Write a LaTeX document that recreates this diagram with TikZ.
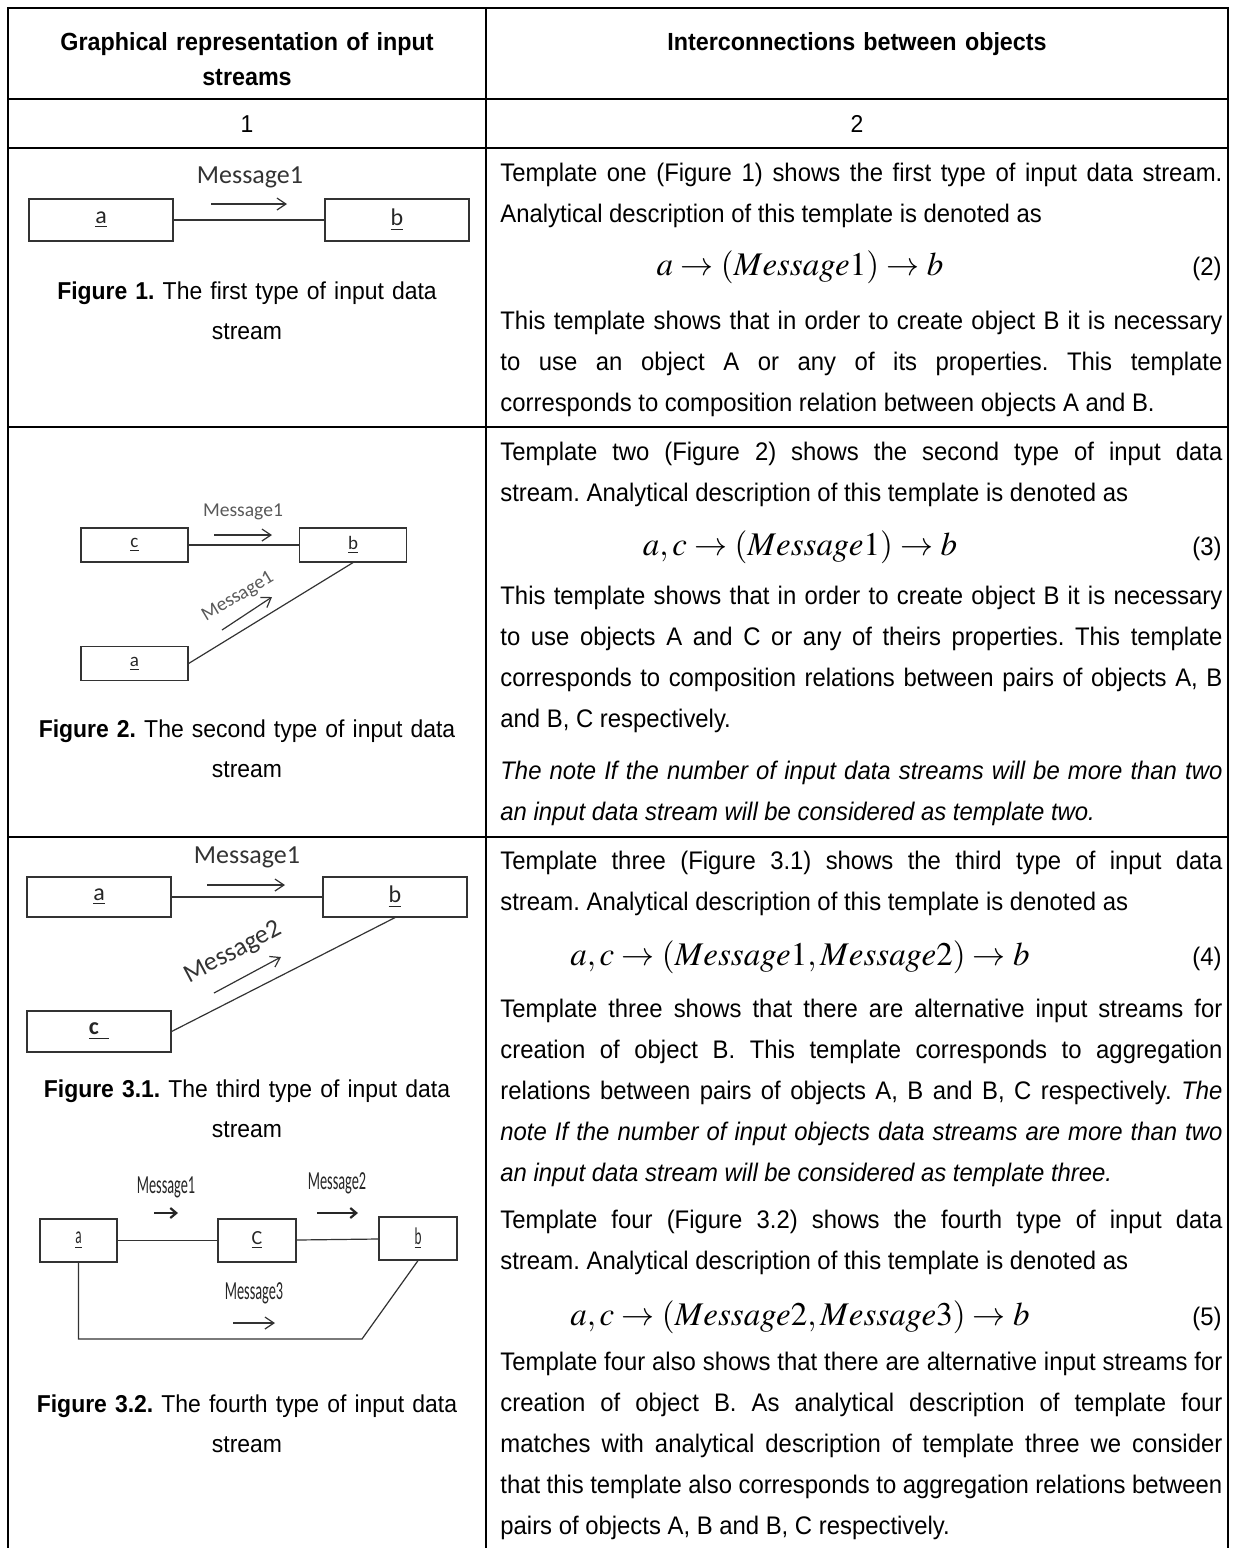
\documentclass[tikz,border=0pt]{standalone}
\usepackage{mathptmx}
\usepackage[no-math]{fontspec}
\setmainfont{Liberation Sans}[FakeStretch=0.94]
\newfontfamily\umlfont{Carlito}
\newfontfamily\umlnarrow{Carlito}[FakeStretch=0.55]
\usetikzlibrary{arrows.meta, positioning}
\frenchspacing

\begin{document}
\begin{tikzpicture}[x=0.5pt, y=-0.5pt,
  font=\fontsize{12.7}{20.5}\selectfont,
  grid/.style={line width=1.2pt},
  colhead/.style={anchor=base, inner sep=0pt, text width=230pt, align=center,
               font=\bfseries\fontsize{12.4}{17.5}\selectfont},
  figcap/.style={anchor=base, inner sep=0pt, text width=230pt, align=center,
              font=\fontsize{12.2}{20}\selectfont},
  para/.style={anchor=base west, inner sep=0pt, text width=361pt, align=justify},
  eqn/.style={anchor=base, inner sep=0pt, font=\fontsize{16.5}{19}\selectfont},
  eqno/.style={anchor=base east, inner sep=0pt},
  obj/.style={draw=black!80, line width=0.6pt, inner sep=0pt, text=black!85,
              font=\umlfont\fontsize{12}{14}\selectfont},
  link/.style={draw=black!80, line width=0.6pt},
  msg/.style={inner sep=0pt, text=black!80, font=\umlfont\fontsize{13}{15}\selectfont},
  msgs/.style={inner sep=0pt, text=black!65, font=\umlfont\fontsize{9.8}{12}\selectfont},
  msgn/.style={inner sep=0pt, text=black!85, font=\umlnarrow\fontsize{13}{15}\selectfont},
  flow/.style={draw=black!80, line width=0.6pt, -{Straight Barb[length=4.5pt,width=6pt]}},
  flowb/.style={draw=black!85, line width=1.1pt, -{Straight Barb[length=3pt,width=5pt]}}]
\useasboundingbox (0,0) rectangle (1234,1548);

% table
\draw[grid] (8,1548) -- (8,8) -- (1228,8) -- (1228,1548);
\draw[grid] (486,8) -- (486,1548);
\foreach \y in {99,148,427,837}
  \draw[grid] (8,\y) -- (1228,\y);

\node[colhead] (h1) at (247,50) {Graphical representation of input\\ streams};
\node[colhead] (h2) at (857,50) {Interconnections between objects};
\node[figcap] (n1) at (247,132) {1};
\node[figcap] (n2) at (857,132) {2};

% figure 1
\node[obj, minimum width=72pt, minimum height=21pt] (a1) at (101,220) {\underline{a}};
\node[obj, minimum width=72pt, minimum height=21pt] (b1) at (397,220) {\underline{b}};
\draw[link] (a1) -- (b1);
\node[msg] (m1) at (250,177) {Message1};
\draw[flow] (211,204) -- (287,204);
\node[figcap] (cap1) at (247,299) {\textbf{Figure 1.} The first type of input data\\ stream};

% figure 2
\node[obj, minimum width=53.5pt, minimum height=17pt, font=\umlfont\fontsize{9.5}{11}\selectfont] (c2) at (134.5,545) {\underline{c}};
\node[obj, minimum width=53.5pt, minimum height=17pt, font=\umlfont\fontsize{9.5}{11}\selectfont] (b2) at (353,545) {\underline{b}};
\node[obj, minimum width=53.5pt, minimum height=17pt, font=\umlfont\fontsize{9.5}{11}\selectfont] (a2) at (134.5,663.5) {\underline{a}};
\draw[link] (c2) -- (b2);
\draw[link] (a2.east) -- (b2.south);
\node[msgs] (m2) at (243,512) {Message1};
\draw[flow] (214,535) -- (272,535);
\node[msgs, rotate=31] (m2d) at (238,597) {Message1};
\draw[flow] (222,630) -- (272,597);
\node[figcap] (cap2) at (247,737) {\textbf{Figure 2.} The second type of input data\\ stream};

% figure 3.1
\node[obj, minimum width=72pt, minimum height=20pt] (a3) at (99,897) {\underline{a}};
\node[obj, minimum width=72pt, minimum height=20pt] (b3) at (395,897) {\underline{b}};
\node[obj, minimum width=72pt, minimum height=20.5pt] (c3) at (99,1031.5) {\underline{\textbf{c}\hspace{5pt}}};
\draw[link] (a3) -- (b3);
\draw[link] (c3.east) -- (b3.south);
\node[msg] (m3) at (247,857) {Message1};
\draw[flow] (207,885) -- (285,885);
\node[msg, rotate=28] (m3d) at (233,953) {Message2};
\draw[flow] (214,993) -- (281,957);
\node[figcap] (cap3) at (247,1097) {\textbf{Figure 3.1.} The third type of input data\\ stream};

% figure 3.2
\node[obj, minimum width=38.5pt, minimum height=21.5pt, font=\umlnarrow\fontsize{12}{14}\selectfont] (a4) at (78.5,1240.5) {\underline{a}};
\node[obj, minimum width=39pt, minimum height=21.5pt, font=\umlfont\fontsize{10}{12}\selectfont] (c4) at (257,1240.5) {\underline{C}};
\node[obj, minimum width=39pt, minimum height=21.5pt, font=\umlnarrow\fontsize{12}{14}\selectfont] (b4) at (418,1238.5) {\underline{b}};
\coordinate (turn) at (362,1339);
\draw[link] (a4) -- (c4);
\draw[link] (c4) -- (b4);
\draw[link] (a4.south) |- (turn) -- (b4.south);
\node[msgn] (m41) at (166,1187) {Message1};
\node[msgn] (m42) at (337,1183) {Message2};
\node[msgn] (m43) at (254,1293) {Message3};
\draw[flowb] (154,1213) -- (178,1213);
\draw[flowb] (317,1213) -- (358,1213);
\draw[flow] (233,1323) -- (275,1323);
\node[figcap] (cap4) at (247,1412) {\textbf{Figure 3.2.} The fourth type of input data\\ stream};

% column 2, row of figure 1
\node[para] (t1) at (500,181) {Template one (Figure 1) shows the first type of input data stream.\linebreak
  Analytical description of this template is denoted as};
\node[eqn] (e2) at (800,275) {$a \rightarrow (Message1) \rightarrow b$};
\node[eqno] (e2n) at (1222,275) {(2)};
\node[para] (t2) at (500,329) {This template shows that in order to create object B it is necessary\linebreak
  to use an object A or any of its properties. This template\linebreak
  corresponds to composition relation between objects A and B.};

% column 2, row of figure 2
\node[para] (t3) at (500,460) {Template two (Figure 2) shows the second type of input data\linebreak
  stream. Analytical description of this template is denoted as};
\node[eqn] (e3) at (800,555) {$a,c \rightarrow (Message1) \rightarrow b$};
\node[eqno] (e3n) at (1222,555) {(3)};
\node[para] (t4) at (500,604) {This template shows that in order to create object B it is necessary\linebreak
  to use objects A and C or any of theirs properties. This template\linebreak
  corresponds to composition relations between pairs of objects A, B\linebreak
  and B, C respectively.};
\node[para, font=\itshape\fontsize{12.7}{20.5}\selectfont] (t5) at (500,779) {The note If the number of input data streams will be more than two\linebreak
  an input data stream will be considered as template two.};

% column 2, row of figures 3.1 and 3.2
\node[para] (t6) at (500,869) {Template three (Figure 3.1) shows the third type of input data\linebreak
  stream. Analytical description of this template is denoted as};
\node[eqn] (e4) at (800,965) {$a,c \rightarrow (Message1, Message2) \rightarrow b$};
\node[eqno] (e4n) at (1222,965) {(4)};
\node[para] (t7) at (500,1017) {Template three shows that there are alternative input streams for\linebreak
  creation of object B. This template corresponds to aggregation\linebreak
  relations between pairs of objects A, B and B, C respectively. \textit{The\linebreak
  note If the number of input objects data streams are more than two\linebreak
  an input data stream will be considered as template three.}};
\node[para] (t8) at (500,1228) {Template four (Figure 3.2) shows the fourth type of input data\linebreak
  stream. Analytical description of this template is denoted as};
\node[eqn] (e5) at (800,1325) {$a,c \rightarrow (Message2, Message3) \rightarrow b$};
\node[eqno] (e5n) at (1222,1325) {(5)};
\node[para] (t9) at (500,1370) {Template four also shows that there are alternative input streams for\linebreak
  creation of object B. As analytical description of template four\linebreak
  matches with analytical description of template three we consider\linebreak
  that this template also corresponds to aggregation relations between\linebreak
  pairs of objects A, B and B, C respectively.};
\end{tikzpicture}
\end{document}
